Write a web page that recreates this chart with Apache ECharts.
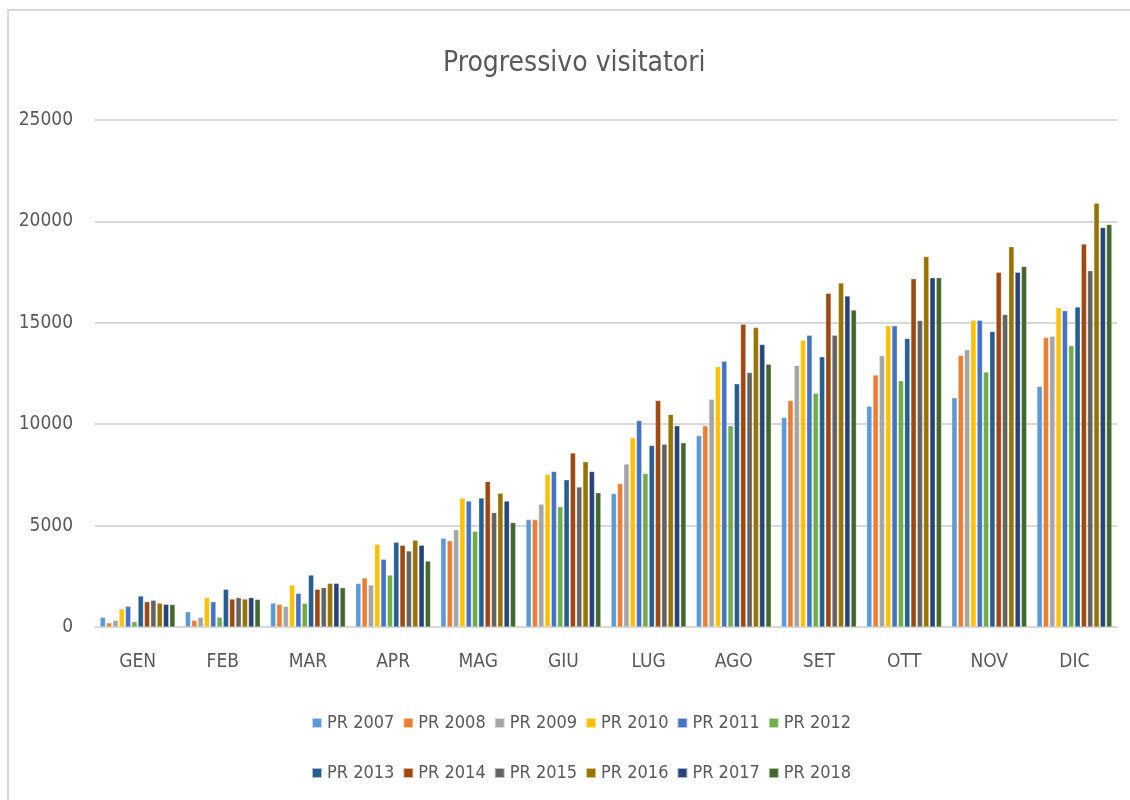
<!DOCTYPE html>
<html>
<head>
<meta charset="utf-8">
<script src="https://cdn.jsdelivr.net/npm/echarts@6/dist/echarts.min.js"></script>
<style>
html,body{margin:0;padding:0;background:#fff;}
#chart{width:1130px;height:800px;}
</style>
</head>
<body>
<div id="chart"></div>
<script>
const months = ['GEN','FEB','MAR','APR','MAG','GIU','LUG','AGO','SET','OTT','NOV','DIC'];
const seriesNames = ['PR 2007','PR 2008','PR 2009','PR 2010','PR 2011','PR 2012','PR 2013','PR 2014','PR 2015','PR 2016','PR 2017','PR 2018'];
const yTicks = [0, 5000, 10000, 15000, 20000, 25000];

const pr2007 = [480, 755, 1180, 2150, 4380, 5300, 6580, 9440, 10330, 10890, 11300, 11860];
const pr2008 = [200, 330, 1120, 2420, 4250, 5300, 7070, 9920, 11170, 12420, 13390, 14280];
const pr2009 = [330, 480, 1020, 2070, 4800, 6060, 8040, 11230, 12900, 13390, 13670, 14340];
const pr2010 = [890, 1450, 2070, 4080, 6360, 7520, 9340, 12830, 14140, 14850, 15120, 15740];
const pr2011 = [1020, 1250, 1660, 3340, 6210, 7670, 10180, 13110, 14380, 14850, 15120, 15590];
const pr2012 = [260, 480, 1170, 2560, 4720, 5930, 7570, 9920, 11520, 12140, 12570, 13870];
const pr2013 = [1530, 1860, 2560, 4180, 6360, 7260, 8950, 11990, 13320, 14230, 14570, 15780];
const pr2014 = [1250, 1380, 1860, 4030, 7180, 8580, 11170, 14930, 16460, 17170, 17490, 18880];
const pr2015 = [1320, 1450, 1940, 3750, 5640, 6900, 9010, 12550, 14380, 15110, 15410, 17570];
const pr2016 = [1180, 1380, 2150, 4280, 6600, 8150, 10480, 14770, 16960, 18270, 18750, 20900];
const pr2017 = [1120, 1450, 2150, 4030, 6210, 7670, 9920, 13930, 16320, 17220, 17490, 19700];
const pr2018 = [1110, 1360, 1940, 3250, 5150, 6620, 9080, 12960, 15630, 17220, 17780, 19850];

const allValues = [pr2007, pr2008, pr2009, pr2010, pr2011, pr2012, pr2013, pr2014, pr2015, pr2016, pr2017, pr2018];
const colors = ['#5B9BD5','#ED7D31','#A5A5A5','#FFC000','#4472C4','#70AD47','#255E91','#9E480E','#636363','#997300','#264478','#43682B'];

const FONT = "'Liberation Sans Narrow', 'DejaVu Sans Condensed', sans-serif";
const TXT = '#595959';

const chart = echarts.init(document.getElementById('chart'), null, {renderer: 'canvas'});

const legendCommon = {
  orient: 'horizontal',
  left: 306,
  itemWidth: 10,
  itemHeight: 10,
  itemGap: 8,
  icon: 'rect',
  textStyle: {fontFamily: FONT, fontSize: 18, color: TXT}
};

chart.setOption({
  animation: false,
  color: colors,
  title: {
    text: 'Progressivo visitatori',
    left: 438,
    top: 45,
    textStyle: {fontFamily: FONT, fontSize: 28, fontWeight: 'normal', color: TXT}
  },
  graphic: [{
    type: 'rect',
    shape: {x: 8, y: 10, width: 1140, height: 800},
    style: {fill: 'none', stroke: '#d9d9d9', lineWidth: 2},
    silent: true,
    z: -1
  }],
  legend: [
    Object.assign({}, legendCommon, {top: 709, data: seriesNames.slice(0, 6)}),
    Object.assign({}, legendCommon, {top: 759, data: seriesNames.slice(6)})
  ],
  grid: {left: 95, right: 13, top: 120, bottom: 173, containLabel: false},
  xAxis: {
    type: 'category',
    data: months,
    axisLine: {lineStyle: {color: '#d9d9d9', width: 2}},
    axisTick: {show: false},
    axisLabel: {fontFamily: FONT, fontSize: 19, color: TXT, margin: 26}
  },
  yAxis: {
    type: 'value',
    min: yTicks[0],
    max: yTicks[yTicks.length - 1],
    interval: yTicks[1] - yTicks[0],
    axisLine: {show: false},
    axisTick: {show: false},
    axisLabel: {fontFamily: FONT, fontSize: 19, color: TXT, margin: 22, formatter: v => String(v)},
    splitLine: {lineStyle: {color: '#d9d9d9', width: 2}}
  },
  series: seriesNames.map((name, i) => ({
    name: name,
    type: 'bar',
    data: allValues[i],
    barGap: '18%',
    barCategoryGap: '12%',
    itemStyle: {color: colors[i], borderColor: 'rgba(255,255,255,0.6)', borderWidth: 0.5}
  }))
});
</script>
</body>
</html>
